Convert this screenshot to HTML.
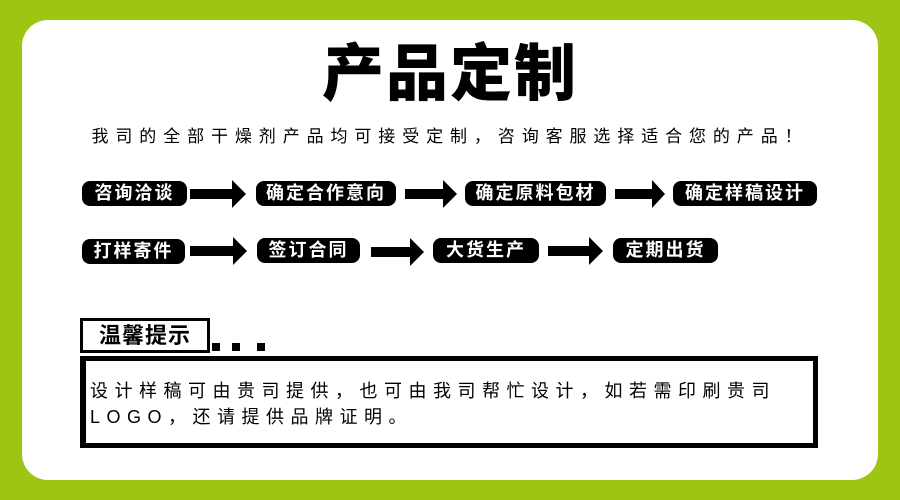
<!DOCTYPE html>
<html><head><meta charset="utf-8"><style>
body{margin:0;width:900px;height:500px;background:#9ec414;position:relative;overflow:hidden;font-family:"Liberation Sans","Noto Sans CJK SC",sans-serif}
.panel{position:absolute;left:22px;top:20px;width:856px;height:460px;background:#fff;border-radius:26px}
.t{position:absolute;left:0;width:900px;text-align:center}
.pill{position:absolute;height:25px;background:#000;color:#fff;border-radius:8px;font-weight:bold;font-size:18px;line-height:25px;text-align:center;letter-spacing:2px;white-space:nowrap}
svg{position:absolute;left:0;top:0}
.warm{position:absolute;left:80px;top:318px;width:124px;height:29px;border:3px solid #000;font-size:22px;font-weight:bold;line-height:29px;text-align:center;letter-spacing:1px}
.box{position:absolute;left:80px;top:356px;width:738px;height:92px;border:5px solid #000;border-left-width:6px;font-size:18px;letter-spacing:6.5px;line-height:26px;padding-left:4px;box-sizing:border-box;white-space:nowrap}
.dot{position:absolute;top:343px;width:8px;height:8px;background:#000}
</style></head><body>
<div class="panel"></div>
<div class="t" style="top:38px;font-size:62px;font-weight:900;line-height:74px;letter-spacing:2px">产品定制</div>
<div class="t" style="top:124px;font-size:17px;line-height:26px;letter-spacing:6.9px">我司的全部干燥剂产品均可接受定制，咨询客服选择适合您的产品！</div>
<div class="pill" style="left:82px;top:181px;width:105px">咨询洽谈</div>
<div class="pill" style="left:256px;top:181px;width:140px">确定合作意向</div>
<div class="pill" style="left:465px;top:181px;width:141px">确定原料包材</div>
<div class="pill" style="left:673px;top:181px;width:144px">确定样稿设计</div>
<div class="pill" style="left:82px;top:239px;width:103px">打样寄件</div>
<div class="pill" style="left:257px;top:238px;width:103px">签订合同</div>
<div class="pill" style="left:433px;top:238px;width:106px">大货生产</div>
<div class="pill" style="left:613px;top:238px;width:105px">定期出货</div>
<svg width="900" height="500">
<g fill="#000">
<polygon points="190,189 232,189 232,180 246,194 232,208 232,199 190,199"/>
<polygon points="405,189 443,189 443,180 457,194 443,208 443,199 405,199"/>
<polygon points="615,189 652,189 652,180 665,194 652,208 652,199 615,199"/>
<polygon points="190,246 233,246 233,237 247,251 233,265 233,256 190,256"/>
<polygon points="371,247 410,247 410,238 424,252 410,266 410,257 371,257"/>
<polygon points="548,246 589,246 589,237 603,251 589,265 589,256 548,256"/>
</g></svg>
<div class="warm">温馨提示</div>
<div class="dot" style="left:212px"></div>
<div class="dot" style="left:232px"></div>
<div class="dot" style="left:257px"></div>
<div class="box"><div style="padding-top:17px">设计样稿可由贵司提供，也可由我司帮忙设计，如若需印刷贵司<br>LOGO，还请提供品牌证明。</div></div>
</body></html>
